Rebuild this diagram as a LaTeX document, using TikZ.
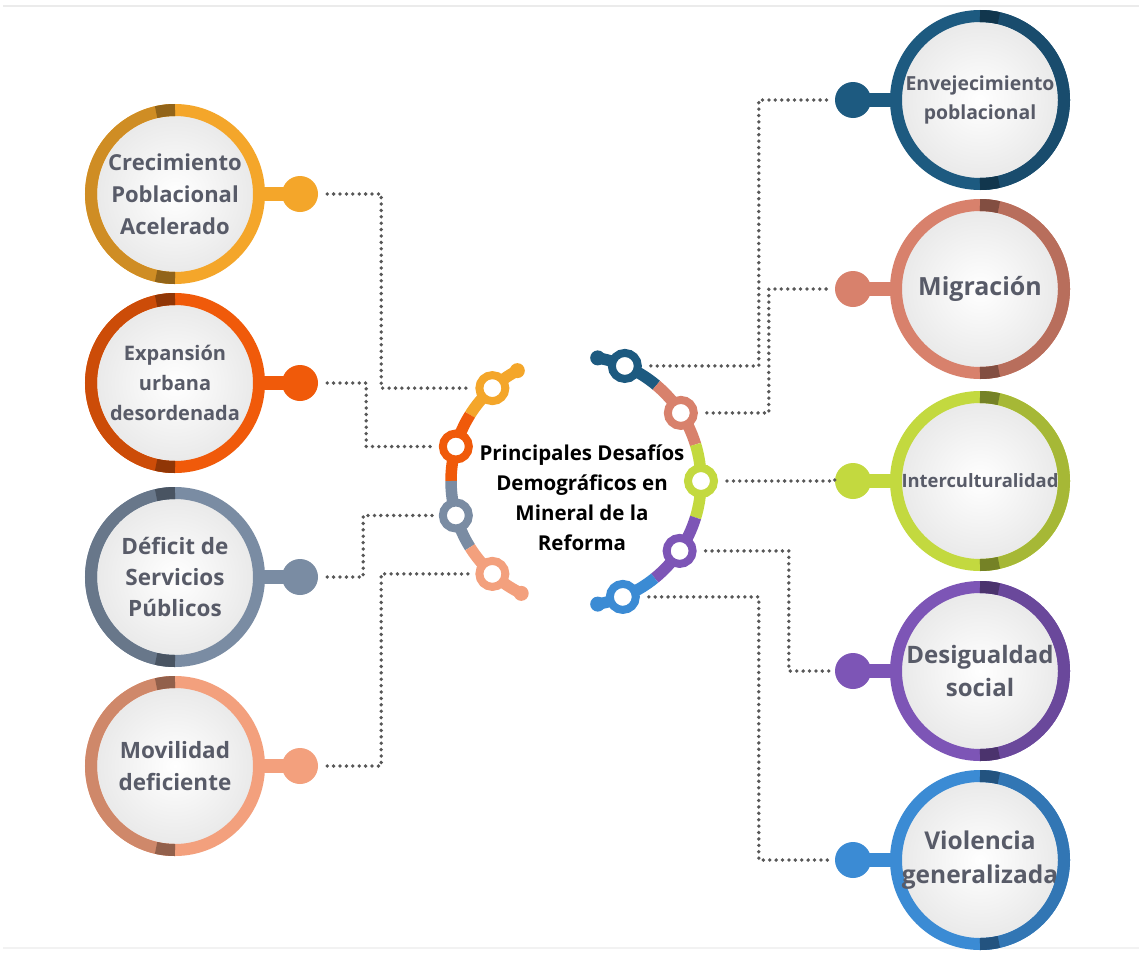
\documentclass[tikz,border=0pt]{standalone}
\usepackage{fontspec}
\setmainfont{Open Sans}
\usetikzlibrary{calc,positioning}
\definecolor{cOrange}{HTML}{F4A62A}
\definecolor{cRed}{HTML}{F05A0A}
\definecolor{cSlate}{HTML}{7A8CA3}
\definecolor{cPeach}{HTML}{F3A07D}
\definecolor{cNavy}{HTML}{1D5A80}
\definecolor{cSalmon}{HTML}{D8816C}
\definecolor{cLime}{HTML}{C3D93F}
\definecolor{cPurple}{HTML}{7D55B6}
\definecolor{cBlue}{HTML}{3B8BD4}
\definecolor{textGray}{HTML}{585B68}

\begin{document}
\begin{tikzpicture}[x=1pt, y=1pt,
  bigring/.style={circle, draw=#1, line width=12pt, minimum size=168pt, inner sep=0pt, inner color=white, outer color=black!9, text=textGray, align=center},
  knob/.style={circle, fill=#1, minimum size=36pt, inner sep=0pt},
  hubring/.style={circle, draw=#1, line width=8pt, fill=white, minimum size=26pt, inner sep=0pt},
  seg/.style={line width=11.5pt, draw=#1},
  dotline/.style={draw=black!66, line width=3.8pt, line cap=round, dash pattern=on 0pt off 6.4pt, shorten <=9pt, shorten >=5pt},
]
\fill[white] (0,0) rectangle (1139,-953);
\useasboundingbox (0,0) rectangle (1139,-953);
\draw[black!8, line width=2pt] (3,-6) -- (1139,-6);
\draw[black!5, line width=2pt] (3,-948) -- (1139,-948);

% central arcs
\coordinate (hub) at (576,-481);
\foreach \s/\e/\col in {118/148/cOrange,148/180/cRed,180/212/cSlate,212/244/cPeach,
                        80/50/cNavy,50/17/cSalmon,17/-17/cLime,-17/-51/cPurple,-51/-80/cBlue} {
  \draw[seg=\col] (hub) ++(\s:125) arc[start angle=\s, end angle=\e, radius=125];
}
\foreach \a/\col in {118/cOrange,244/cPeach,80/cNavy,-80/cBlue} {
  \fill[\col] (hub) ++(\a:125) circle[radius=7.5];
}
\node[font={\fontsize{20.5}{30}\selectfont\bfseries}, align=center, text=black] (title) at (582,-498)
  {Principales Desafíos\\Demográficos en\\Mineral de la\\Reforma};

% left side
\foreach \n/\y/\col/\fs/\bs/\a/\dx/\txt in {
    1/194/cOrange/22/32/132/63/{Crecimiento\\Poblacional\\Acelerado},
    2/383/cRed/20/30/164/48/{Expansión\\urbana\\desordenada},
    3/577/cSlate/22.5/31/196/45/{Déficit de\\Servicios\\Públicos},
    4/766/cPeach/22.5/32/228/63/{Movilidad\\deficiente}} {
  \node[bigring=\col, font={\fontsize{\fs}{\bs}\selectfont\bfseries}] (c\n) at (175,-\y) {\txt};
  \draw[line width=12pt, \col!85!black] (c\n.center) ++(90:84) arc[start angle=90, end angle=270, radius=84];
  \draw[line width=12pt, \col!60!black] (c\n.center) ++(90:84) arc[start angle=90, end angle=103, radius=84];
  \draw[line width=12pt, \col!60!black] (c\n.center) ++(270:84) arc[start angle=270, end angle=257, radius=84];
  \node[knob=\col] (k\n) at (300,-\y) {};
  \draw[line width=14pt, \col] (c\n.center) ++(0:84) -- (k\n.center);
  \node[hubring=\col] (s\n) at ([shift={(\a:125)}]hub) {};
  \draw[dotline] (k\n.east) -- ++(\dx,0) |- (s\n.west);
}

% right side
\foreach \n/\y/\col/\fs/\bs/\a/\dx/\txt in {
    5/100/cNavy/19.4/29/67/76/{Envejecimiento\\poblacional},
    6/289/cSalmon/25/30/33/66/{Migración},
    7/481/cLime/18.4/30/0/0/{Interculturalidad},
    8/671/cPurple/24/33/-34/46/{Desigualdad\\social},
    9/860/cBlue/24.5/34/-68/76/{Violencia\\generalizada}} {
  \node[bigring=\col, font={\fontsize{\fs}{\bs}\selectfont\bfseries}] (c\n) at (980,-\y) {\txt};
  \draw[line width=12pt, \col!85!black] (c\n.center) ++(-90:84) arc[start angle=-90, end angle=90, radius=84];
  \draw[line width=12pt, \col!60!black] (c\n.center) ++(90:84) arc[start angle=90, end angle=77, radius=84];
  \draw[line width=12pt, \col!60!black] (c\n.center) ++(-90:84) arc[start angle=-90, end angle=-77, radius=84];
  \node[knob=\col] (k\n) at (853,-\y) {};
  \draw[line width=14pt, \col] (c\n.center) ++(180:84) -- (k\n.center);
  \node[hubring=\col] (s\n) at ([shift={(\a:125)}]hub) {};
  \draw[dotline] (s\n.east) -| ([xshift=-\dx]k\n.west) -- (k\n.west);
}
\end{tikzpicture}
\end{document}
